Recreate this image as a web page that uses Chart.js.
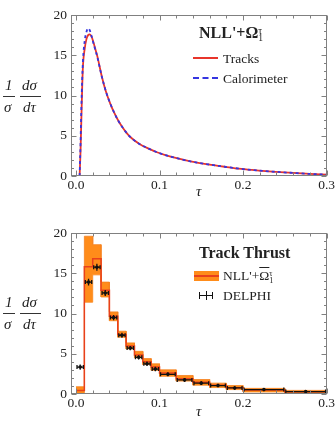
<!DOCTYPE html>
<html><head><meta charset="utf-8">
<script src="https://cdn.jsdelivr.net/npm/chart.js@4"></script>
<style>
body{margin:0;width:336px;height:421px;background:#fff;position:relative;overflow:hidden;font-family:"Liberation Serif","DejaVu Serif",serif;color:#222}
canvas{position:absolute;left:0}
#c1{top:0}#c2{top:210px}
.t{position:absolute;white-space:nowrap;line-height:1}
.it{font-style:italic}
.bar{position:absolute;height:0;border-top:1px solid #333}
.ttl{font-weight:bold;font-size:16px}
.leg{font-size:13.5px}
.ss{display:inline-block;vertical-align:-0.35em;line-height:0.8;font-size:0.6em;text-align:left;font-weight:normal}
.ss span{display:block}
.ol{text-decoration:overline}
</style></head>
<body>
<canvas id="c1" width="336" height="210"></canvas>
<canvas id="c2" width="336" height="211"></canvas>

<!-- y-axis fraction labels -->
<div class="t it" style="left:5px;top:78px;font-size:15px">1</div>
<div class="bar" style="left:3px;top:96px;width:12px"></div>
<div class="t it" style="left:4px;top:100px;font-size:15px">σ</div>
<div class="t it" style="left:22px;top:78px;font-size:15px">dσ</div>
<div class="bar" style="left:20px;top:96px;width:21px"></div>
<div class="t it" style="left:23px;top:100px;font-size:15px">dτ</div>

<div class="t it" style="left:5px;top:295px;font-size:15px">1</div>
<div class="bar" style="left:3px;top:313px;width:12px"></div>
<div class="t it" style="left:4px;top:317px;font-size:15px">σ</div>
<div class="t it" style="left:22px;top:295px;font-size:15px">dσ</div>
<div class="bar" style="left:20px;top:313px;width:21px"></div>
<div class="t it" style="left:23px;top:317px;font-size:15px">dτ</div>

<!-- x titles -->
<div class="t it" style="left:196px;top:184px;font-size:15px">τ</div>
<div class="t it" style="left:196px;top:404px;font-size:15px">τ</div>

<!-- top legend -->
<div class="t ttl" style="left:199px;top:25px">NLL'+Ω<span class="ss"><span>τ</span><span>1</span></span></div>
<div style="position:absolute;left:193px;top:57px;width:25px;border-top:2px solid #e8352b"></div>
<div class="t leg" style="left:223px;top:52px">Tracks</div>
<div style="position:absolute;left:193px;top:77px;width:25px;border-top:2px dashed #3535e0"></div>
<div class="t leg" style="left:223px;top:72px">Calorimeter</div>

<!-- bottom legend -->
<div class="t ttl" style="left:199px;top:245px">Track Thrust</div>
<div style="position:absolute;left:194px;top:271px;width:25px;height:10px;background:#ff8c1a"></div>
<div style="position:absolute;left:194px;top:275px;width:25px;border-top:2px solid #e8401c"></div>
<div class="t leg" style="left:223px;top:269px">NLL'+<span class="ol">Ω</span><span class="ss"><span>τ</span><span>1</span></span></div>
<div style="position:absolute;left:200px;top:295px;width:13px;border-top:1.5px solid #111"></div>
<div style="position:absolute;left:199px;top:292px;height:7px;border-left:1.5px solid #111"></div>
<div style="position:absolute;left:212px;top:292px;height:7px;border-left:1.5px solid #111"></div>
<div style="position:absolute;left:205.5px;top:291px;height:9px;border-left:1.5px solid #111"></div>
<div class="t leg" style="left:223px;top:289px">DELPHI</div>

<script>
// ---------- top panel data ----------
const tau = [0.0043,0.0054,0.0064,0.0074,0.0084,0.0104,0.0125,0.0145,0.0165,0.0186,0.0206,0.0236,0.0257,0.0308,0.0358,0.041,0.046,0.051,0.056,0.061,0.066,0.0765,0.087,0.097,0.107,0.117,0.137,0.158,0.178,0.198,0.219,0.239,0.26,0.28,0.3];
const tracks = [0,3,7,11,13.8,15.8,17.0,17.5,17.6,17.3,16.7,15.6,14.8,12.4,10.5,9.0,7.8,6.8,6.0,5.3,4.75,3.95,3.4,2.95,2.6,2.3,1.82,1.45,1.15,0.88,0.68,0.52,0.38,0.26,0.16];
const calorimeter = [0,4,8.5,12,14.5,16.8,17.9,18.35,18.1,17.4,16.6,15.5,14.7,12.4,10.5,9.0,7.8,6.8,6.0,5.3,4.75,3.95,3.4,2.95,2.6,2.3,1.82,1.45,1.15,0.88,0.68,0.52,0.38,0.26,0.16];

// ---------- bottom panel data ----------
const binEdges = [0,0.01,0.02,0.03,0.04,0.05,0.06,0.07,0.08,0.09,0.10,0.12,0.14,0.16,0.18,0.20,0.25,0.30];
const theory = [0.45,15.8,16.8,12.9,9.65,7.4,5.95,4.85,4.0,3.35,2.6,1.9,1.45,1.08,0.78,0.5,0.28];
const theoryLow = [0,11.4,14.8,12.05,9.1,7.05,5.6,4.5,3.65,2.95,2.2,1.6,1.1,0.8,0.55,0.25,0.12];
const theoryHigh = [0.9,19.6,18.55,13.9,10.2,7.8,6.35,5.3,4.4,3.75,3.0,2.3,1.8,1.35,1.05,0.7,0.45];
const delphi = [3.35,13.9,15.75,12.55,9.5,7.3,5.7,4.55,3.75,3.1,2.45,1.75,1.35,1.05,0.75,0.55,0.3];
const delphiErr = [0.2,0.3,0.3,0.25,0.2,0.2,0.15,0.15,0.15,0.15,0.12,0.12,0.1,0.1,0.1,0.08,0.08];

// ---------- tick labels ----------
const xTickLabels = ['0.0','0.1','0.2','0.3'];
const yTickLabels = ['0','5','10','15','20'];

const FONT = {family:'"Liberation Serif", "Times New Roman", serif', size:13.5};

function steps(vals){
  const pts=[];
  vals.forEach((v,i)=>{pts.push({x:binEdges[i],y:v});pts.push({x:binEdges[i+1],y:v});});
  return pts;
}

const framePlugin = {
  id:'frame',
  afterDraw(chart){
    const {ctx, chartArea:a, scales:{x,y}} = chart;
    ctx.save();
    ctx.strokeStyle='#808080'; ctx.lineWidth=1;
    const L=Math.round(a.left)+0.5, R=Math.round(a.right)-0.5, T=Math.round(a.top)+0.5, B=Math.round(a.bottom)-0.5;
    ctx.strokeRect(L,T,R-L,B-T);
    ctx.beginPath();
    for(let k=0;k<=15;k++){
      const px=Math.round(x.getPixelForValue(k*0.02))+0.5;
      const len=(k%5===0)?5:3;
      ctx.moveTo(px,B);ctx.lineTo(px,B-len);
      ctx.moveTo(px,T);ctx.lineTo(px,T+len);
    }
    for(let k=0;k<=20;k++){
      const py=Math.round(y.getPixelForValue(k))+0.5;
      const len=(k%5===0)?5:2.5;
      ctx.moveTo(L,py);ctx.lineTo(L+len,py);
      ctx.moveTo(R,py);ctx.lineTo(R-len,py);
    }
    ctx.stroke();
    ctx.restore();
  }
};

const errPlugin = {
  id:'errbars',
  afterDatasetsDraw(chart){
    if(chart.canvas.id!=='c2') return;
    const {ctx, scales:{x,y}} = chart;
    ctx.save();
    ctx.strokeStyle='#111'; ctx.lineWidth=1.3;
    ctx.beginPath();
    delphi.forEach((v,i)=>{
      const x0=x.getPixelForValue(binEdges[i])+1, x1=x.getPixelForValue(binEdges[i+1])-1;
      const xc=x.getPixelForValue((binEdges[i]+binEdges[i+1])/2);
      const yc=y.getPixelForValue(v);
      const yt=y.getPixelForValue(v+delphiErr[i]), yb=y.getPixelForValue(v-delphiErr[i]);
      ctx.moveTo(x0,yc);ctx.lineTo(x1,yc);
      ctx.moveTo(x0,yc-2);ctx.lineTo(x0,yc+2);
      ctx.moveTo(x1,yc-2);ctx.lineTo(x1,yc+2);
      ctx.moveTo(xc,yt-1);ctx.lineTo(xc,yb+1);
    });
    ctx.stroke();
    ctx.restore();
  }
};

function makeScales(){
  return {
    x:{type:'linear',min:-0.006,max:0.3,
       afterFit(s){s.height=34;},
       grid:{display:false,drawTicks:false},border:{display:false},
       ticks:{stepSize:0.1,includeBounds:false,padding:1,color:'#222',font:FONT,maxRotation:0,
              callback:(v)=>{const i=Math.round(v*10);return Math.abs(v*10-i)<1e-6?xTickLabels[i]:'';}}},
    y:{type:'linear',min:0,max:20,
       afterFit(s){s.width=71;},
       grid:{display:false,drawTicks:false},border:{display:false},
       ticks:{stepSize:5,padding:4,color:'#222',font:FONT,
              callback:(v)=>{const i=Math.round(v/5);return Math.abs(v/5-i)<1e-6?yTickLabels[i]:'';}}}
  };
}

const base = {
  responsive:false, animation:false, devicePixelRatio:1,
  plugins:{legend:{display:false},tooltip:{enabled:false}},
  elements:{point:{radius:0}}
};

function draw(){
  Chart.defaults.font.family = '"Liberation Serif", serif';
  new Chart(document.getElementById('c1'),{
    type:'line',
    data:{datasets:[
      {label:'Calorimeter',data:tau.map((t,i)=>({x:t,y:calorimeter[i]})),borderColor:'#3535e0',borderWidth:1.8,borderDash:[3,3],cubicInterpolationMode:'monotone',pointRadius:0},
      {label:'Tracks',data:tau.map((t,i)=>({x:t,y:tracks[i]})),borderColor:'#e8352b',borderWidth:1.8,cubicInterpolationMode:'monotone',pointRadius:0}
    ]},
    options:Object.assign({},base,{layout:{padding:{left:0,right:8,top:15,bottom:0}},scales:makeScales()}),
    plugins:[framePlugin]
  });

  const s2 = makeScales();
  s2.x.afterFit = (s)=>{s.height=27;};
  new Chart(document.getElementById('c2'),{
    type:'line',
    data:{datasets:[
      {label:'DELPHI',data:delphi.map((v,i)=>({x:(binEdges[i]+binEdges[i+1])/2,y:v})),showLine:false,pointRadius:1.8,pointBackgroundColor:'#111',pointBorderWidth:0},
      {label:"NLL'",data:steps(theory),borderColor:'#e8401c',borderWidth:1.5,pointRadius:0,tension:0},
      {label:'band high',data:steps(theoryHigh),borderColor:'#f58220',borderWidth:0.8,backgroundColor:'#ff8c1a',fill:'+1',pointRadius:0,tension:0},
      {label:'band low',data:steps(theoryLow),borderColor:'#f58220',borderWidth:0.8,pointRadius:0,fill:false,tension:0}
    ]},
    options:Object.assign({},base,{layout:{padding:{left:0,right:8,top:23,bottom:0}},scales:s2}),
    plugins:[framePlugin,errPlugin]
  });
}

if (document.fonts && document.fonts.load) {
  Promise.all([
    document.fonts.load('13.5px "Liberation Serif"'),
    document.fonts.load('italic 15px "Liberation Serif"'),
    document.fonts.load('bold 16px "Liberation Serif"')
  ]).then(draw, draw);
} else { draw(); }
</script>
</body></html>
